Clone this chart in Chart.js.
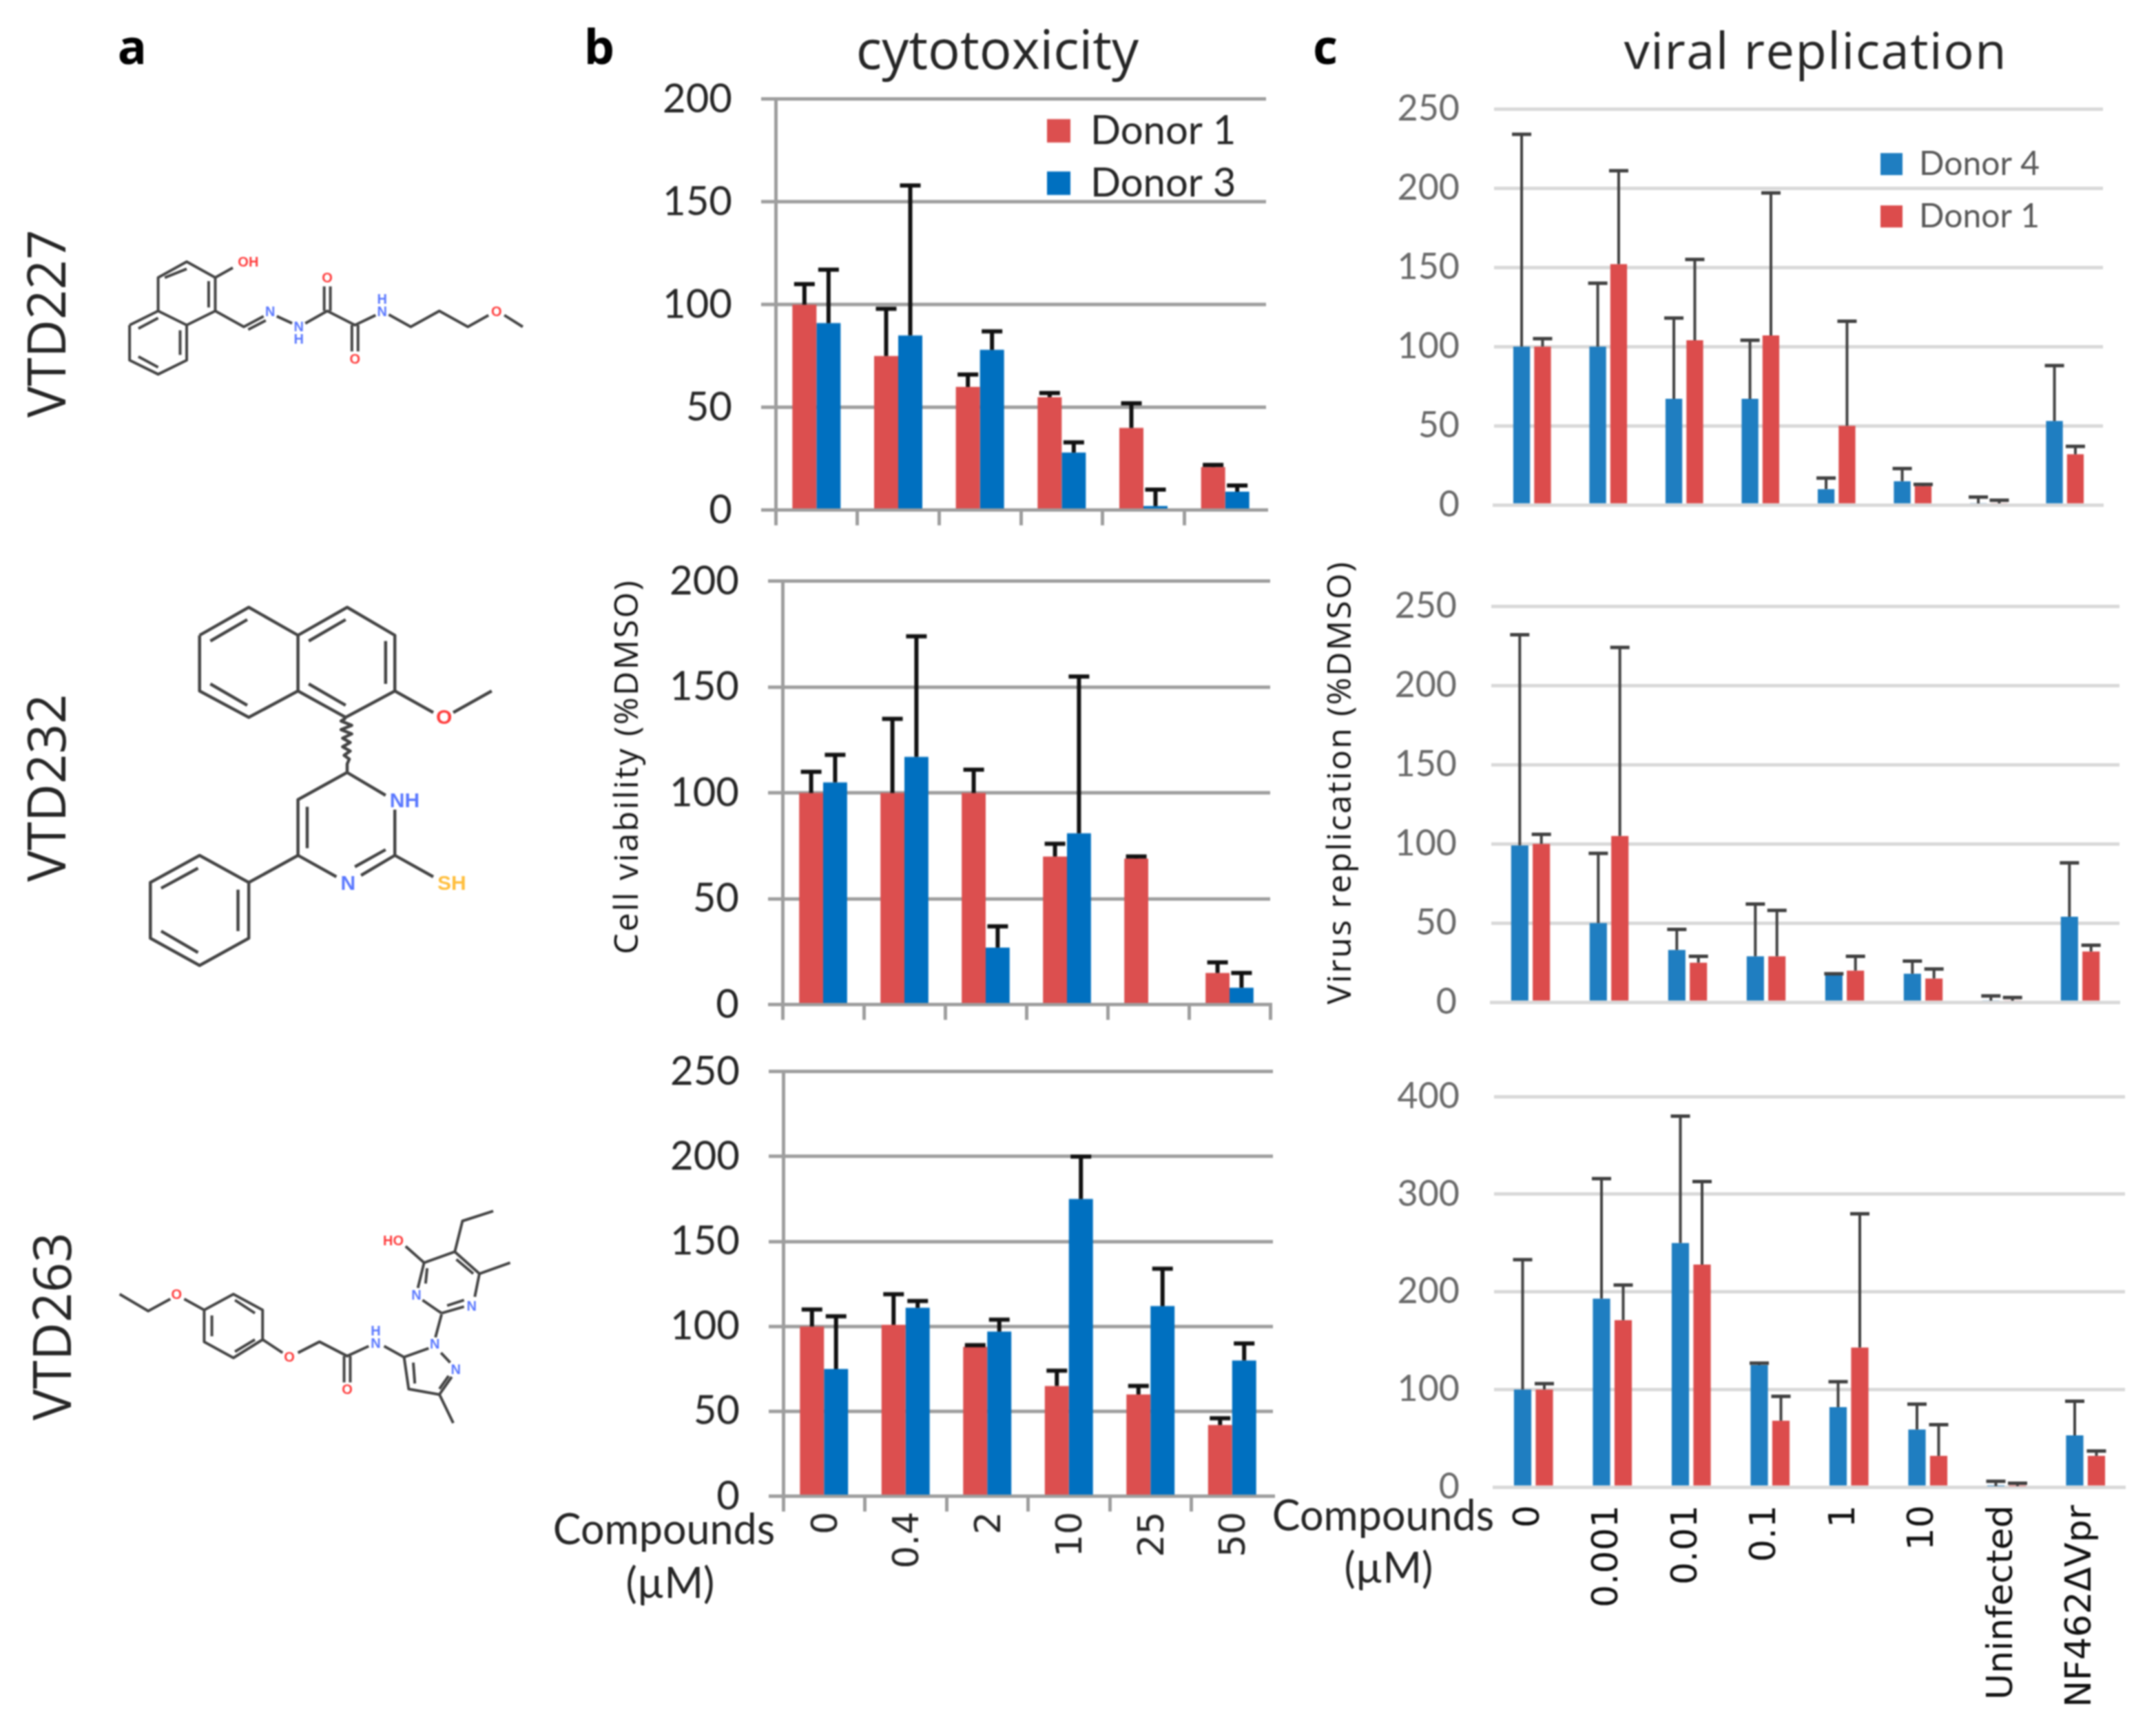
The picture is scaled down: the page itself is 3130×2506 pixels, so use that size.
<!DOCTYPE html>
<html>
<head>
<meta charset="utf-8">
<script src="https://cdn.jsdelivr.net/npm/chart.js@4"></script>
<style>
html,body{margin:0;padding:0;background:#fff}
#page{position:relative;width:3130px;height:2506px;overflow:hidden;background:#fff;filter:blur(0.9px)}
canvas{position:absolute}
.t{position:absolute;white-space:nowrap;color:#262626;font-family:"Open Sans",sans-serif;line-height:1;transform:translate(-50%,-50%)}
.r{transform:translate(-50%,-50%) rotate(-90deg)}
svg{position:absolute;left:0;top:0}
</style>
</head>
<body>
<div id="page"></div>
<script>
// ---------- categories ----------
const dosesB = ["0","0.4","2","10","25","50"];
const dosesC = ["0","0.001","0.01","0.1","1","10","Uninfected","NF462\u0394Vpr"];
// ---------- tick settings ----------
const ticksB1 = {max:200, step:50};
const ticksB2 = {max:200, step:50};
const ticksB3 = {max:250, step:50};
const ticksC1 = {max:250, step:50};
const ticksC2 = {max:250, step:50};
const ticksC3 = {max:400, step:100};
// ---------- panel b values ----------
const b1Donor1 = [100,75,60,55,40,21];
const b1Donor1Upper = [110,98,66,57,52,22];
const b1Donor3 = [91,85,78,28,2,9];
const b1Donor3Upper = [117,158,87,33,10,12];
const b2Donor1 = [100,100,100,70,69,15];
const b2Donor1Upper = [110,135,111,76,70,20];
const b2Donor3 = [105,117,27,81,0,8];
const b2Donor3Upper = [118,174,37,155,0,15];
const b3Donor1 = [100,101,88,65,60,42];
const b3Donor1Upper = [110,119,89,74,65,46];
const b3Donor3 = [75,111,97,175,112,80];
const b3Donor3Upper = [106,115,104,200,134,90];
// ---------- panel c values ----------
const c1Donor4 = [100,100,67,67,10,15,1,53];
const c1Donor4Upper = [234,140,118,104,17,23,5,88];
const c1Donor1 = [100,152,104,107,50,12,1,32];
const c1Donor1Upper = [105,211,155,197,116,13,3,37];
const c2Donor4 = [99,50,33,29,17,18,1,54];
const c2Donor4Upper = [232,94,46,62,18,26,4,88];
const c2Donor1 = [100,105,25,29,20,15,1,32];
const c2Donor1Upper = [106,224,29,58,29,21,3,36];
const c3Donor4 = [100,193,250,125,82,59,1,53];
const c3Donor4Upper = [233,316,380,127,108,85,6,88];
const c3Donor1 = [100,171,228,68,143,32,1,32];
const c3Donor1Upper = [106,207,313,93,280,64,4,37];

const RED='#dc4f4f', BLUE_B='#0070c0', BLUE_C='#1f7ec1', RED_C='#dc4c4c', AXIS_B='#9e9e9e';
const page=document.getElementById('page');

const errorBars={id:'errorBars',afterDatasetsDraw(chart,args,o){
  const ctx=chart.ctx,y=chart.scales.y;
  chart.data.datasets.forEach((ds,di)=>{
    const meta=chart.getDatasetMeta(di);
    meta.data.forEach((bar,i)=>{
      const up=ds.upper[i],v=ds.data[i];
      if(up<=v)return;
      const py=y.getPixelForValue(up),pb=y.getPixelForValue(v);
      ctx.save();ctx.strokeStyle=o.color;ctx.lineWidth=o.width;
      ctx.beginPath();ctx.moveTo(bar.x,pb);ctx.lineTo(bar.x,py);ctx.stroke();
      ctx.lineWidth=o.capWidth;ctx.beginPath();
      ctx.moveTo(bar.x-o.cap,py);ctx.lineTo(bar.x+o.cap,py);ctx.stroke();ctx.restore();
    });
  });
}};
const legendMove={id:'legendMove',afterUpdate(chart,args,o){
  if(!o.x)return;const l=chart.legend,lab=l.options.labels,p=lab.padding,ih=Math.max(lab.font.size,lab.boxHeight);
  l.left=o.x-parseFloat(chart.canvas.style.left)-p;
  l.top=o.y-parseFloat(chart.canvas.style.top)-ih/2-p;
  l.right=chart.width;l.bottom=chart.height;
}};

function panel(cfg){
  const W=260,TOP=50,RIGHT=20,H=cfg.labels?cfg.bottomH:40;
  const a=cfg.area;
  const c=document.createElement('canvas');
  let cl=a.l-W,ct=a.t-TOP,cw=W+(a.r-a.l)+RIGHT,ch=TOP+(a.b-a.t)+H;
  c.width=cw;c.height=ch;c.style.left=cl+'px';c.style.top=ct+'px';c.style.width=cw+'px';c.style.height=ch+'px';
  page.appendChild(c);
  const B=cfg.kind==='b';
  const chart=new Chart(c,{
    type:'bar',
    data:{labels:cfg.cats,datasets:cfg.sets.map(s=>({label:s.label,data:s.data,upper:s.upper,backgroundColor:s.color,borderWidth:0,
      categoryPercentage:B?0.59:0.55,barPercentage:B?1:0.8}))},
    options:{
      responsive:false,maintainAspectRatio:false,animation:false,devicePixelRatio:1,
      layout:{padding:{top:TOP,right:RIGHT,left:0,bottom:0}},
      plugins:{
        tooltip:{enabled:false},
        legend:cfg.legend?{display:true,position:'chartArea',align:'start',
          labels:{boxWidth:cfg.legend.box,boxHeight:cfg.legend.box,padding:cfg.legend.pad,color:cfg.legend.color,
            font:{family:'Lato',size:cfg.legend.size}}}:{display:false},
        errorBars:{color:B?'#111':'#404040',width:B?6:4,capWidth:B?6:5,cap:B?15:14},
        legendMove:cfg.legend?{x:cfg.legend.x,y:cfg.legend.y}:{}
      },
      scales:{
        x:{
          type:'category',offset:true,
          afterFit:s=>{s.height=H},
          grid:B?{display:true,offset:true,drawOnChartArea:false,drawTicks:true,tickLength:22,
            tickColor:ctx=>(ctx.index===undefined&&!cfg.lastTick)?'rgba(0,0,0,0)':AXIS_B,tickWidth:5,lineWidth:5,color:AXIS_B}:{display:false},
          border:{display:true,color:B?AXIS_B:'#d9d9d9',width:B?5:5},
          ticks:{display:!!cfg.labels,autoSkip:false,minRotation:90,maxRotation:90,padding:B?0:18,labelOffset:B?5:-6,
            color:B?'#262626':'#111',font:{family:'DejaVu Sans',size:52}}
        },
        y:{
          min:0,max:cfg.ticks.max,
          afterFit:s=>{s.width=W},
          grid:{color:B?AXIS_B:'#d9d9d9',lineWidth:B?5:5,drawTicks:B,tickLength:21,tickColor:B?AXIS_B:'#d9d9d9',tickWidth:B?5:5},
          border:B?{display:true,color:AXIS_B,width:5}:{display:false},
          ticks:{stepSize:cfg.ticks.step,padding:B?42:50,color:B?'#262626':'#6a6a6a',font:{family:'Lato',size:B?58:52}}
        }
      }
    },
    plugins:[errorBars,legendMove]
  });
  // place the canvas so the plot area sits where the reference has it
  for(let k=0;k<3;k++){
    const ca=chart.chartArea;
    cl=a.l-ca.left;ct=a.t-ca.top;
    cw=cw+((a.r-a.l)-(ca.right-ca.left));
    ch=ch+((a.b-a.t)-(ca.bottom-ca.top));
    c.style.left=cl+'px';c.style.top=ct+'px';
    chart.resize(cw,ch);
    c.style.left=cl+'px';c.style.top=ct+'px';
  }
  chart.update('none');
}

panel({kind:'b',area:{l:1126,r:1838,t:144,b:740},cats:dosesB,ticks:ticksB1,
  sets:[{label:'Donor 1',data:b1Donor1,upper:b1Donor1Upper,color:RED},{label:'Donor 3',data:b1Donor3,upper:b1Donor3Upper,color:BLUE_B}],
  legend:{x:1520,y:190,box:34,pad:18,size:58,color:'#262626'}});
panel({kind:'b',lastTick:true,area:{l:1136,r:1844,t:844,b:1458},cats:dosesB,ticks:ticksB2,
  sets:[{label:'Donor 1',data:b2Donor1,upper:b2Donor1Upper,color:RED},{label:'Donor 3',data:b2Donor3,upper:b2Donor3Upper,color:BLUE_B}]});
panel({kind:'b',area:{l:1137,r:1848,t:1556,b:2172},cats:dosesB,ticks:ticksB3,labels:true,bottomH:200,
  sets:[{label:'Donor 1',data:b3Donor1,upper:b3Donor1Upper,color:RED},{label:'Donor 3',data:b3Donor3,upper:b3Donor3Upper,color:BLUE_B}]});
panel({kind:'c',area:{l:2169,r:3053,t:158,b:733},cats:dosesC,ticks:ticksC1,
  sets:[{label:'Donor 4',data:c1Donor4,upper:c1Donor4Upper,color:BLUE_C},{label:'Donor 1',data:c1Donor1,upper:c1Donor1Upper,color:RED_C}],
  legend:{x:2730,y:238,box:32,pad:28,size:48,color:'#595959'}});
panel({kind:'c',area:{l:2165,r:3077,t:880,b:1455},cats:dosesC,ticks:ticksC2,
  sets:[{label:'Donor 4',data:c2Donor4,upper:c2Donor4Upper,color:BLUE_C},{label:'Donor 1',data:c2Donor1,upper:c2Donor1Upper,color:RED_C}]});
panel({kind:'c',area:{l:2169,r:3085,t:1592,b:2159},cats:dosesC,ticks:ticksC3,labels:true,bottomH:340,
  sets:[{label:'Donor 4',data:c3Donor4,upper:c3Donor4Upper,color:BLUE_C},{label:'Donor 1',data:c3Donor1,upper:c3Donor1Upper,color:RED_C}]});

// ---------- text ----------
function txt(s,x,y,size,extra){const d=document.createElement('div');d.className='t';d.textContent=s;d.style.left=x+'px';d.style.top=y+'px';d.style.fontSize=size+'px';if(extra)Object.assign(d.style,extra);page.appendChild(d);return d;}
function rot(s,x,y,size,extra){const d=txt(s,x,y,size,extra);d.className='t r';return d;}
txt('a',192,66,70,{fontWeight:'700',color:'#000'});
txt('b',870,66,70,{fontWeight:'700',color:'#000'});
txt('c',1924,66,70,{fontWeight:'700',color:'#000'});
txt('cytotoxicity',1448,70,78);
txt('viral replication',2636,72,74,{letterSpacing:'1.5px'});
rot('VTD227',66,470,76);
rot('VTD232',66,1144,76);
rot('VTD263',74,1926,76);
rot('Cell viability (%DMSO)',908,1113,48,{color:'#111',letterSpacing:'2.7px'});
rot('Virus replication (%DMSO)',1943,1136,48,{color:'#111',letterSpacing:'2.4px'});
txt('Compounds',964,2218,61,{fontFamily:'Lato'});
txt('(\u00b5M)',973,2296,61,{fontFamily:'Lato'});
txt('Compounds',2008,2198,61,{fontFamily:'Lato'});
txt('(\u00b5M)',2016,2274,61,{fontFamily:'Lato'});

// ---------- structures ----------
const NS='http://www.w3.org/2000/svg';
const svg=document.createElementNS(NS,'svg');svg.setAttribute('width',900);svg.setAttribute('height',2506);page.appendChild(svg);
function mol(ox,oy,sx,sy,width,bonds,labels,fs){
  const X=x=>ox+x/sx,Y=y=>oy+y/sy;
  bonds.forEach(pts=>{
    const p=document.createElementNS(NS,'polyline');
    let s='';for(let i=0;i<pts.length;i+=2)s+=X(pts[i])+','+Y(pts[i+1])+' ';
    p.setAttribute('points',s);p.setAttribute('fill','none');p.setAttribute('stroke','#444');p.setAttribute('stroke-width',width);p.setAttribute('stroke-linejoin','round');
    svg.appendChild(p);
  });
  labels.forEach(([s,x,y,col])=>{
    const t=document.createElementNS(NS,'text');t.textContent=s;t.setAttribute('x',X(x));t.setAttribute('y',Y(y));
    t.setAttribute('fill',col);t.setAttribute('font-family','Liberation Sans');t.setAttribute('font-size',fs);t.setAttribute('font-weight','700');
    t.setAttribute('text-anchor','middle');t.setAttribute('dominant-baseline','central');svg.appendChild(t);
  });
}
const O='#ff3b3b',N='#5a78ff',S='#ffbe3c';
mol(0,0,1.568,1.96,4,[
 [295,925,360,885,425,925,425,1025,360,1065,295,1025,295,925],
 [360,885,360,790,425,745,490,790,490,885,425,925],
 [315,935,360,905],[410,940,410,1010],[315,1015,360,1045],
 [375,790,425,765],[475,800,475,875],
 [490,790,530,762],[490,885,555,930,600,900],[565,938,605,912],
 [630,900,665,920],[695,920,745,885,808,925,855,897],
 [738,885,738,815],[752,885,752,815],[801,925,801,1000],[815,925,815,1000],
 [885,895,935,930,1000,885,1065,930,1112,897],[1148,897,1190,930]
],[['OH',565,745,O],['N',615,885,N],['N',680,930,N],['H',680,965,N],['O',745,790,O],['O',808,1022,O],['H',870,850,N],['N',870,885,N],['O',1130,885,O]],20);
mol(100,800,2.24,2.41,4.5,[
 [425,295,585,197,745,295,745,490,585,582,425,490,425,295],
 [745,295,905,197,1060,295,1060,490,900,582,745,490],
 [460,315,580,240],[460,465,580,540],[780,315,900,240],[1030,315,1030,465],[780,465,900,540],
 [1060,490,1185,565],[1250,565,1375,490],
 [900,585,885,595,920,610,885,625,920,640,890,655,915,670,890,685,915,700,895,715,912,728,905,745,905,775],
 [905,775,745,870,745,1065,870,1140],[950,1135,1060,1065,1060,905],[1030,855,905,775],
 [775,895,775,1040],[930,1105,1030,1045],
 [1060,1065,1185,1140],[745,1065,585,1160],
 [585,1160,425,1065,265,1160,265,1355,425,1450,585,1355,585,1160],
 [300,1180,420,1110],[550,1185,550,1330],[300,1330,420,1405]
],[['O',1220,580,O],['NH',1092,872,N],['N',908,1160,N],['SH',1245,1160,S]],30);
mol(100,1650,2.24,3.136,4,[
 [165,718,258,795,330,740],[375,740,440,790,535,718,630,790,630,925,535,1008,440,935,440,790],
 [540,745,605,805],[465,815,465,910],[540,980,605,925],
 [630,925,695,985],[745,985,815,935,905,1000,975,955],
 [895,1000,895,1120],[915,1000,915,1120],
 [1025,955,1090,1005,1170,965],[1090,1005,1105,1150,1205,1175,1245,1095],[1210,985,1240,1030],
 [1120,1030,1125,1125],[1205,1150,1235,1090],[1205,1175,1250,1305],
 [1192,915,1212,810],[1212,805,1150,745],[1135,690,1155,575,1255,525,1335,625,1320,730],[1212,805,1285,775],
 [1165,600,1160,670],[1260,560,1315,625],[1230,770,1285,745],
 [1155,575,1095,500],[1255,525,1280,385,1380,340],[1335,625,1435,575]
],[['O',350,718,O],['O',717,1005,O],['H',998,885,N],['N',998,940,N],['O',905,1150,O],['N',1190,945,N],['N',1258,1060,N],['N',1130,720,N],['N',1310,770,N],['HO',1055,475,O]],20);
</script>
</body>
</html>
